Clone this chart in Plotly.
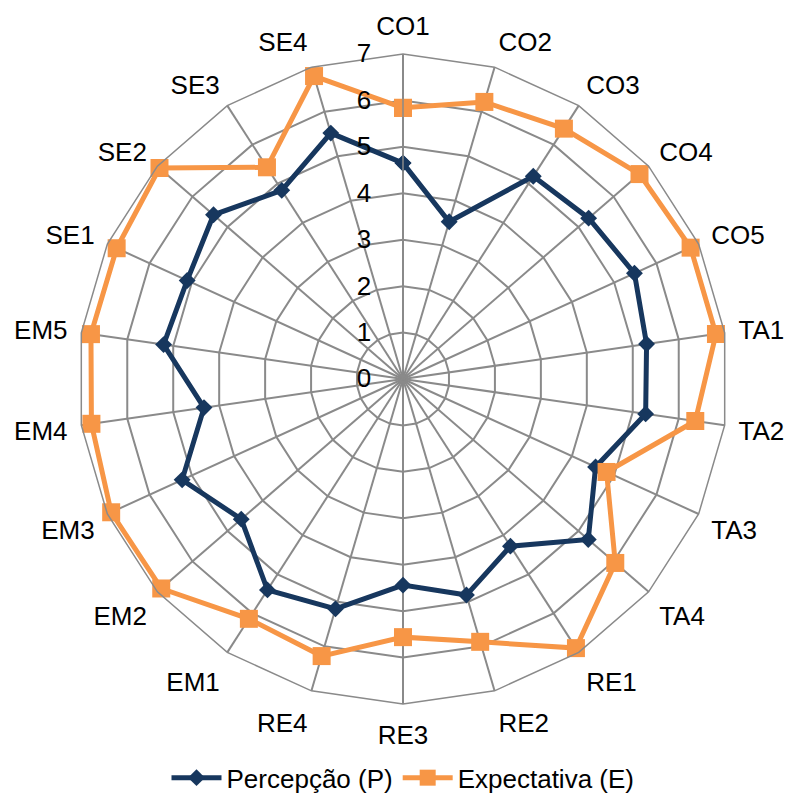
import plotly.graph_objects as go

# Survey dimensions (22 items) and mean scores
categories = [
    "CO1", "CO2", "CO3", "CO4", "CO5",
    "TA1", "TA2", "TA3", "TA4",
    "RE1", "RE2", "RE3", "RE4",
    "EM1", "EM2", "EM3", "EM4", "EM5",
    "SE1", "SE2", "SE3", "SE4",
]
percepcao = [
    4.65, 3.53, 5.19, 5.29, 5.48,
    5.30, 5.28, 4.56, 5.28,
    4.28, 4.85, 4.44, 5.16,
    5.40, 4.61, 5.23, 4.33, 5.21,
    5.11, 5.40, 4.83, 5.52,
]
expectativa = [
    5.84, 6.22, 6.41, 6.74, 6.81,
    6.81, 6.36, 4.82, 6.05,
    6.89, 5.90, 5.56, 6.22,
    6.14, 6.89, 6.91, 6.78, 6.79,
    6.78, 6.94, 5.42, 6.80,
]
radial_ticks = [0, 1, 2, 3, 4, 5, 6, 7]

FONT = "Liberation Sans, Arial, sans-serif"
GRID = "#8a8a8a"
SIZE = 26


def closed(values):
    return values + values[:1]


fig = go.Figure()
fig.add_trace(go.Scatterpolar(
    r=closed(percepcao), theta=closed(categories),
    name="Percepção (P)", mode="lines+markers",
    line=dict(color="#17375E", width=5),
    marker=dict(symbol="diamond", size=13, color="#17375E"),
))
fig.add_trace(go.Scatterpolar(
    r=closed(expectativa), theta=closed(categories),
    name="Expectativa (E)", mode="lines+markers",
    line=dict(color="#F79646", width=5),
    marker=dict(symbol="square", size=18, color="#F79646"),
))

fig.update_layout(
    width=789, height=801,
    margin=dict(l=78, r=61, t=54, b=97, autoexpand=False),
    paper_bgcolor="white",
    font=dict(family=FONT, size=SIZE, color="black"),
    polar=dict(
        bgcolor="white",
        gridshape="linear",
        angularaxis=dict(
            type="category",
            categoryarray=categories,
            direction="clockwise",
            rotation=90,
            showline=True, linecolor=GRID, linewidth=1.5,
            gridcolor=GRID, gridwidth=1.5,
            ticks="outside", ticklen=8, tickcolor="rgba(0,0,0,0)",
            tickfont=dict(size=SIZE, family=FONT),
        ),
        radialaxis=dict(
            range=[0, 7],
            tickvals=radial_ticks,
            angle=90,
            side="counterclockwise",
            showline=True, linecolor=GRID, linewidth=1.5,
            gridcolor=GRID, gridwidth=1.5,
            ticks="outside", ticklen=22, tickcolor="rgba(0,0,0,0)",
            tickangle=90,
            tickfont=dict(size=SIZE, family=FONT),
        ),
    ),
    showlegend=True,
    legend=dict(
        orientation="h",
        x=0.5, xanchor="center",
        yref="container", y=0.029, yanchor="middle",
        font=dict(size=SIZE, family=FONT),
        itemwidth=50,
    ),
)

fig.write_html("out.html")
